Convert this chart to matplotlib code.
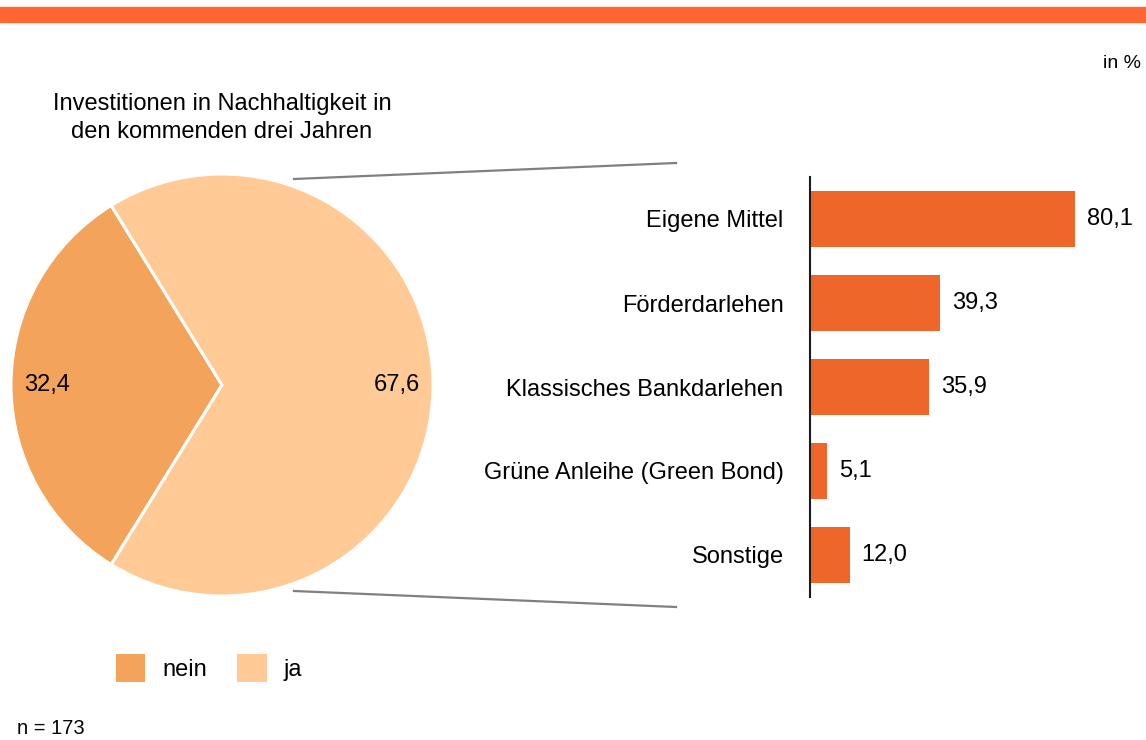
import matplotlib.pyplot as plt
from matplotlib.patches import Patch, Rectangle
from matplotlib.lines import Line2D

plt.rcParams['font.family'] = ['Liberation Sans', 'DejaVu Sans']

# Pie data
pie_labels = ["nein", "ja"]
pie_values = [32.4, 67.6]
pie_colors = ["#F4A35A", "#FFCA96"]

# Bar data
bar_labels = ["Eigene Mittel", "Förderdarlehen", "Klassisches Bankdarlehen",
              "Grüne Anleihe (Green Bond)", "Sonstige"]
bar_values = [80.1, 39.3, 35.9, 5.1, 12.0]
bar_color = "#EE6629"

W, H = 1146, 740
FS = 17
fig = plt.figure(figsize=(W / 100, H / 100), dpi=100)


def fx(px):
    return px / W


def fy(py):
    return 1 - py / H


# orange strip at the top
fig.add_artist(Rectangle((0, fy(22)), 1, 15 / H, color="#FF6633",
                         transform=fig.transFigure, zorder=0))

# Pie
cx, cy, r = 222, 385, 211
ax_pie = fig.add_axes([fx(cx - r), fy(cy + r), 2 * r / W, 2 * r / H])
start = 180 - pie_values[0] / 100 * 360 / 2
wedges, _ = ax_pie.pie(pie_values, colors=pie_colors, startangle=start,
                       counterclock=True, radius=1,
                       wedgeprops=dict(edgecolor="white", linewidth=2.2))
ax_pie.set_xlim(-1, 1)
ax_pie.set_ylim(-1, 1)
ax_pie.set_aspect("auto")
ax_pie.axis("off")
ax_pie.text(-0.83, 0, f"{pie_values[0]:.1f}".replace(".", ","), ha="center",
            va="center", fontsize=FS)
ax_pie.text(0.83, 0, f"{pie_values[1]:.1f}".replace(".", ","), ha="center",
            va="center", fontsize=FS)

fig.text(fx(222), fy(118), "Investitionen in Nachhaltigkeit in\nden kommenden drei Jahren",
         ha="center", va="center", fontsize=FS, linespacing=1.3)

# Bars
ax_bar = fig.add_axes([fx(810), fy(597), 331 / W, 420 / H])
ypos = list(range(len(bar_values)))
ax_bar.barh(ypos, bar_values, height=0.667, color=bar_color)
ax_bar.set_ylim(len(bar_values) - 0.5, -0.5)
ax_bar.set_xlim(0, 100)
ax_bar.set_yticks(ypos)
ax_bar.set_yticklabels(bar_labels, fontsize=FS)
ax_bar.tick_params(axis="y", length=0, pad=19)
ax_bar.set_xticks([])
for s in ["top", "right", "bottom"]:
    ax_bar.spines[s].set_visible(False)
ax_bar.spines["left"].set_linewidth(1.5)
ax_bar.spines["left"].set_color("#1a1a1a")
ax_bar.patch.set_alpha(0)
for y, v in zip(ypos, bar_values):
    ax_bar.annotate(f"{v:.1f}".replace(".", ","), (v, y), xytext=(8.5, 0),
                    textcoords="offset points", ha="left", va="center",
                    fontsize=FS)

# connector lines
for (x0, y0), (x1, y1) in [((294, 179), (676, 163)), ((294, 591), (676, 607))]:
    fig.add_artist(Line2D([fx(x0), fx(x1)], [fy(y0), fy(y1)], color="#808080",
                          linewidth=1.6, transform=fig.transFigure))

# legend
handles = [Patch(facecolor=c, edgecolor="none") for c in pie_colors]
fig.legend(handles, pie_labels, loc="center left",
           bbox_to_anchor=(fx(116), fy(668)), ncol=2, frameon=False,
           fontsize=FS, handlelength=1.23, handleheight=1.44,
           handletextpad=0.72, columnspacing=1.3, borderpad=0,
           borderaxespad=0)

fig.text(fx(1141), fy(64), "in %", ha="right", va="center", fontsize=14)
fig.text(fx(17), fy(729), "n = 173", ha="left", va="center", fontsize=14.5)

fig.savefig("out.png", dpi=100)
